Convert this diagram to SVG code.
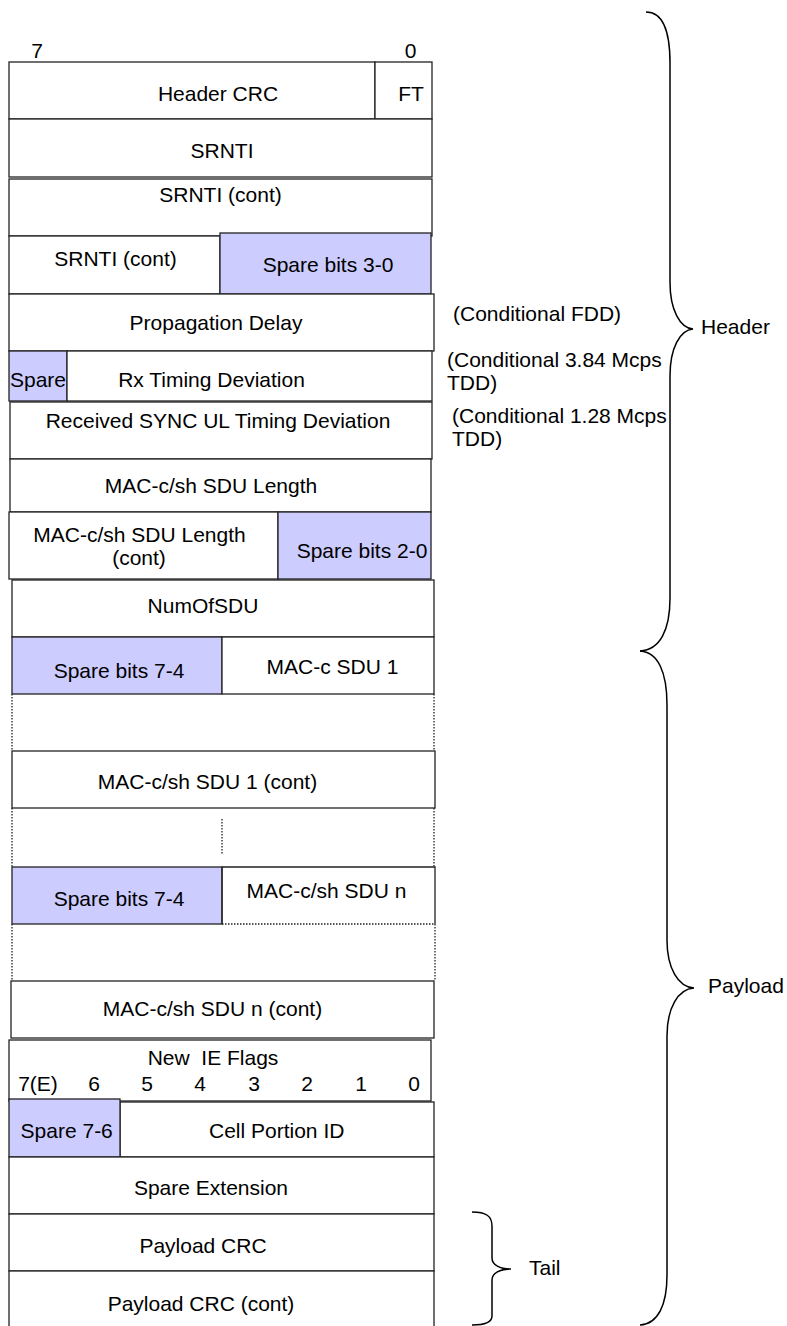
<svg xmlns="http://www.w3.org/2000/svg" width="787" height="1326" viewBox="0 0 787 1326">
<style>
text{font-family:"Liberation Sans",Arial,sans-serif;font-size:21px;fill:#000;white-space:pre}
.m{text-anchor:middle}
.b{fill:#fff;stroke:#222;stroke-width:1.3}
.s{fill:#ccccff;stroke:#222;stroke-width:1.3}
.d{fill:none;stroke:#222;stroke-width:1.3;stroke-dasharray:1.5 1.5}
.l{fill:none;stroke:#222;stroke-width:1.3}
.br{fill:none;stroke:#000;stroke-width:1.5}
</style>
<rect width="787" height="1326" fill="#fff"/>
<g id="bit-labels"><text x="37" y="58" class="m">7</text><text x="410.5" y="58" class="m">0</text></g>
<g id="header-crc"><rect class="b" x="9" y="62" width="366" height="57"/><text class="m" x="218" y="100.5">Header CRC</text></g>
<g id="ft"><rect class="b" x="375" y="62" width="57" height="57"/><text class="m" x="411" y="100.5">FT</text></g>
<g id="srnti"><rect class="b" x="9" y="119" width="423" height="58"/><text class="m" x="222" y="158">SRNTI</text></g>
<g id="srnti-cont1"><rect class="b" x="9" y="179" width="423" height="57"/><text class="m" x="220.5" y="201.5">SRNTI (cont)</text></g>
<g id="srnti-cont2"><rect class="b" x="9" y="236" width="211" height="58"/><text class="m" x="115.5" y="265.5">SRNTI (cont)</text></g>
<g id="spare-3-0"><rect class="s" x="220" y="233" width="211" height="61"/><text class="m" x="328" y="271.5">Spare bits 3-0</text></g>
<g id="prop-delay"><rect class="b" x="9" y="294" width="425" height="57"/><text class="m" x="216" y="330">Propagation Delay</text></g>
<g id="spare-rx"><rect class="s" x="9" y="351" width="58" height="50"/><text x="10" y="387">Spare</text></g>
<g id="rx-timing"><rect class="b" x="67" y="351" width="365" height="50"/><text class="m" x="211.5" y="387">Rx Timing Deviation</text></g>
<g id="rx-sync"><rect class="b" x="10" y="402" width="422" height="57"/><text class="m" x="218" y="428.3">Received SYNC UL Timing Deviation</text></g>
<g id="sdu-length"><rect class="b" x="10" y="459" width="421" height="53"/><text class="m" x="211" y="493">MAC-c/sh SDU Length</text></g>
<g id="sdu-length-cont"><rect class="b" x="9" y="512" width="269" height="67"/><text class="m" x="139.5" y="541.7">MAC-c/sh SDU Length</text><text class="m" x="139" y="565">(cont)</text></g>
<g id="spare-2-0"><rect class="s" x="278" y="512" width="153" height="67"/><text class="m" x="362" y="558.3">Spare bits 2-0</text></g>
<g id="numofsdu"><rect class="b" x="12" y="580" width="422" height="57"/><text class="m" x="203" y="613">NumOfSDU</text></g>
<g id="spare-7-4-a"><rect class="s" x="12" y="637" width="210" height="57"/><text class="m" x="119" y="677.7">Spare bits 7-4</text></g>
<g id="mac-c-sdu1"><rect class="b" x="222" y="637" width="212" height="57"/><text class="m" x="332.5" y="674">MAC-c SDU 1</text></g>
<g id="sdu1-cont"><rect class="b" x="12" y="751" width="423" height="57"/><text class="m" x="207.5" y="789.3">MAC-c/sh SDU 1 (cont)</text></g>
<g id="spare-7-4-b"><rect class="s" x="12" y="867" width="210" height="57"/><text class="m" x="119" y="906">Spare bits 7-4</text></g>
<g id="sdu-n"><path class="l" d="M222,924 L222,867 L435,867 L435,924"/><path class="d" d="M222,924 L435,924"/><text class="m" x="326.5" y="898.3">MAC-c/sh SDU n</text></g>
<g id="sdu-n-cont"><rect class="b" x="11" y="981" width="423" height="57"/><text class="m" x="212.5" y="1016">MAC-c/sh SDU n (cont)</text></g>
<g id="new-ie-flags"><rect class="b" x="9" y="1040" width="422" height="61"/><text class="m" x="213" y="1065">New  IE Flags</text>
<text class="m" x="38" y="1091">7(E)</text><text class="m" x="94" y="1091">6</text><text class="m" x="147" y="1091">5</text><text class="m" x="200" y="1091">4</text><text class="m" x="254" y="1091">3</text><text class="m" x="307" y="1091">2</text><text class="m" x="361" y="1091">1</text><text class="m" x="414" y="1091">0</text></g>
<g id="cell-portion-id"><rect class="b" x="120" y="1102" width="314" height="55"/><text class="m" x="276.7" y="1138.3">Cell Portion ID</text></g>
<g id="spare-7-6"><rect class="s" x="9" y="1099" width="111" height="58"/><text class="m" x="66.7" y="1138.3">Spare 7-6</text></g>
<g id="spare-ext"><rect class="b" x="9" y="1157" width="425" height="57"/><text class="m" x="211" y="1195">Spare Extension</text></g>
<g id="payload-crc"><rect class="b" x="9" y="1214" width="425" height="57"/><text class="m" x="203" y="1253.3">Payload CRC</text></g>
<g id="payload-crc-cont"><rect class="b" x="9" y="1271" width="425" height="60"/><text class="m" x="201" y="1310.7">Payload CRC (cont)</text></g>
<g id="connectors">
<path class="d" d="M12,694 L12,751 M434,694 L434,751"/>
<path class="d" d="M12,808 L12,867 M434,808 L434,867 M222,819 L222,855"/>
<path class="d" d="M12,924 L12,981 M435,924 L435,981"/>
<path class="br" d="M646,12 C662,12 670,30 670,63 L670,282 C670,310 680,328 693,329 C680,330 670,348 670,376 L670,598 C670,630 660,650 640,651"/>
<path class="br" d="M640,651 C658,652 667,672 667,705 L667,940 C667,968 678,987 694,988 C678,989 667,1008 667,1036 L667,1275 C667,1305 658,1324 640,1325"/>
<path class="br" d="M472,1212 C486,1212 492,1216 492,1226 L492,1258 C492,1265 500,1269 511,1269 C500,1269 492,1273 492,1280 L492,1316 C492,1322 486,1325 472,1325"/>
</g>
<g id="notes">
<text x="453" y="320.7">(Conditional FDD)</text>
<text x="447" y="366.7">(Conditional 3.84 Mcps</text>
<text x="447" y="390">TDD)</text>
<text x="452" y="422.7">(Conditional 1.28 Mcps</text>
<text x="452" y="446">TDD)</text>
<text x="701" y="334.3">Header</text>
<text x="708" y="992.7">Payload</text>
<text x="529" y="1275">Tail</text>
</g>
</svg>
